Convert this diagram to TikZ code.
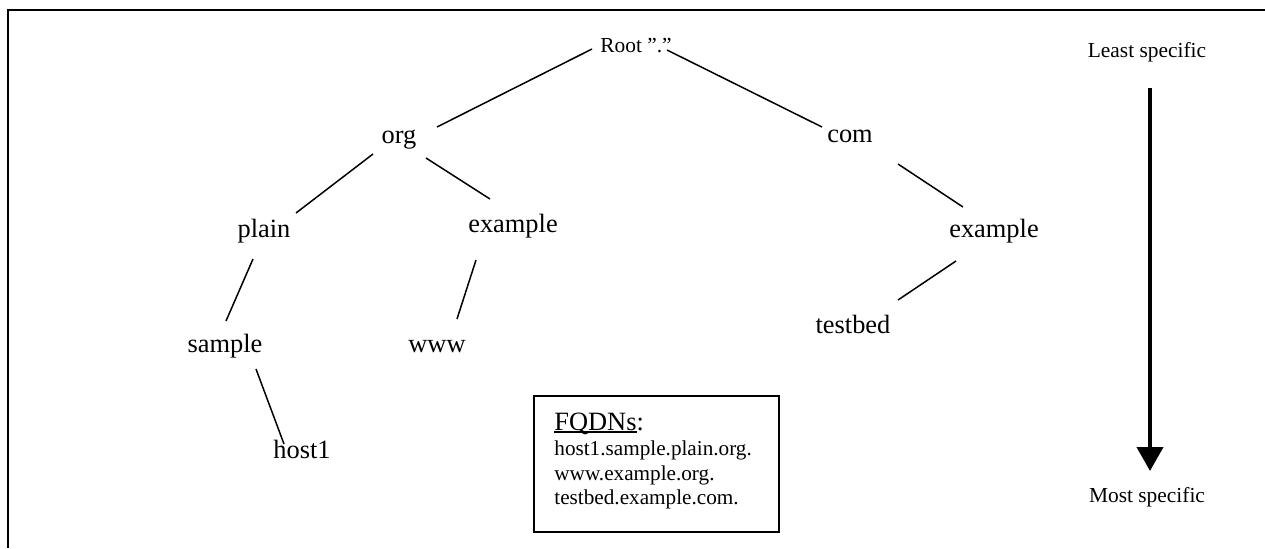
\documentclass[tikz,border=0pt]{standalone}
\usepackage{fontspec}
\setmainfont{Liberation Serif}
\usetikzlibrary{calc,arrows.meta}
\newcommand{\myuline}[1]{{\setbox0\hbox{#1}\rlap{\rule[-1.4pt]{\wd0}{0.7pt}}\box0}}
\begin{document}
\begin{tikzpicture}[x=0.5pt,y=-0.5pt,
  lbl/.style={inner sep=0pt,anchor=base,font=\fontsize{13.2}{15}\selectfont},
  small/.style={inner sep=0pt,anchor=base,font=\fontsize{10.7}{12}\selectfont},
  boxtxt/.style={inner sep=0pt,anchor=base west,font=\fontsize{10.6}{12}\selectfont},
  edge/.style={line width=0.75pt},
  frameline/.style={line width=1.25pt}]
\useasboundingbox (0,0) rectangle (1265,548);
\draw[frameline] (8,548) -- (8,10) -- (1265,10);
% tree nodes
\node[small] (root) at (636,52) {Root ”.”};
\node[lbl] (org) at (399,143) {org};
\node[lbl] (com) at (850,142) {com};
\node[lbl] (plain) at (264,237) {plain};
\node[lbl] (exorg) at (513,232) {example};
\node[lbl] (excom) at (994,237) {example};
\node[lbl] (testbed) at (853,333) {testbed};
\node[lbl] (sample) at (225,352) {sample};
\node[lbl] (www) at (437,352) {www};
\node[lbl] (host1) at (302,458) {host1};
% connectors
\draw[edge] ($(root.base)+(-44,-3)$) -- ($(org.base)+(38,-16)$);
\draw[edge] ($(root.base)+(31,-2)$) -- ($(com.base)+(-28,-15)$);
\draw[edge] ($(org.base)+(-26,11)$) -- ($(plain.base)+(32,-24)$);
\draw[edge] ($(org.base)+(27,15)$) -- ($(exorg.base)+(-23,-33)$);
\draw[edge] ($(com.base)+(48,22)$) -- ($(excom.base)+(-31,-30)$);
\draw[edge] ($(excom.base)+(-38,24)$) -- ($(testbed.base)+(45,-33)$);
\draw[edge] ($(plain.base)+(-11,22)$) -- ($(sample.base)+(1,-31)$);
\draw[edge] ($(exorg.base)+(-37,28)$) -- ($(www.base)+(20,-33)$);
\draw[edge] ($(sample.base)+(31,17)$) -- ($(host1.base)+(-18,-14)$);
% specificity arrow
\node[small] (least) at (1147,57) {Least specific};
\node[small] (most) at (1147,502) {Most specific};
\draw[line width=2pt,-{Triangle[width=13pt,length=12pt]}] ($(least.base)+(3,31)$) -- ($(most.base)+(3,-31)$);
% FQDN box
\node[draw,line width=0.75pt,anchor=north west,minimum width=122.5pt,minimum height=68pt,inner sep=0pt] (fqbox) at (533,395) {};
\node[inner sep=0pt,anchor=base west,font=\fontsize{13.2}{15}\selectfont] (fq0) at (554,430) {\myuline{FQDNs}:};
\node[boxtxt] (fq1) at (554,455) {host1.sample.plain.org.};
\node[boxtxt] (fq2) at (554,480) {www.example.org.};
\node[boxtxt] (fq3) at (554,504) {testbed.example.com.};
\end{tikzpicture}
\end{document}
